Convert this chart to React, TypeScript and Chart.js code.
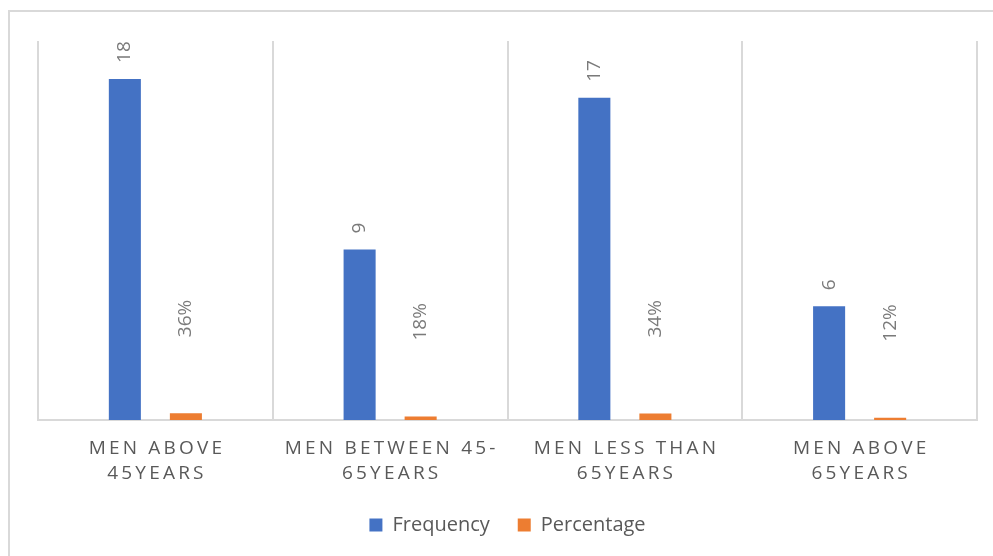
import React, { useEffect, useRef } from "react";
import { Chart, registerables } from "chart.js";

Chart.register(...registerables);

const categories: string[][] = [
  ["MEN ABOVE", "45YEARS"],
  ["MEN BETWEEN 45-", "65YEARS"],
  ["MEN LESS THAN", "65YEARS"],
  ["MEN ABOVE", "65YEARS"],
];
const frequency: number[] = [18, 9, 17, 6];
const percentage: number[] = [0.36, 0.18, 0.34, 0.12];
const percentageLabels: string[] = ["36%", "18%", "34%", "12%"];

const FONT = "'Open Sans', 'Noto Sans', sans-serif";
const GRID = "#d9d9d9";

// Rotated value labels above each bar
const valueLabels = {
  id: "valueLabels",
  afterDatasetsDraw(chart: Chart) {
    const ctx = chart.ctx;
    ctx.save();
    ctx.font = `19px ${FONT}`;
    ctx.fillStyle = "#7a7a7a";
    ctx.textAlign = "left";
    ctx.textBaseline = "middle";
    chart.data.datasets.forEach((ds, di) => {
      const meta = chart.getDatasetMeta(di);
      meta.data.forEach((el: any, i: number) => {
        const text = di === 0 ? String(ds.data[i]) : percentageLabels[i];
        const gap = di === 0 ? 16 : 76;
        ctx.save();
        ctx.translate(el.x, el.y - gap);
        ctx.rotate(-Math.PI / 2);
        ctx.fillText(text, 0, 0);
        ctx.restore();
      });
    });
    ctx.restore();
  },
};

// Letter-spaced two-line category labels under the axis
const categoryLabels = {
  id: "categoryLabels",
  afterDraw(chart: Chart) {
    const ctx = chart.ctx as any;
    const xs = chart.scales.x;
    const spacing = 3.2;
    ctx.save();
    ctx.font = `19px ${FONT}`;
    ctx.fillStyle = "#595959";
    ctx.textAlign = "center";
    ctx.textBaseline = "middle";
    ctx.letterSpacing = `${spacing}px`;
    categories.forEach((lines, i) => {
      const x = xs.getPixelForValue(i) + spacing / 2;
      lines.forEach((line, li) => {
        ctx.fillText(line, x, xs.top + 29 + li * 25);
      });
    });
    ctx.restore();
  },
};

export default function App() {
  const canvasRef = useRef<HTMLCanvasElement | null>(null);

  useEffect(() => {
    if (!canvasRef.current) return;
    const chart = new Chart(canvasRef.current, {
      type: "bar",
      data: {
        labels: categories.map((c) => c.join(" ")),
        datasets: [
          {
            label: "Frequency",
            data: frequency,
            backgroundColor: "#4472C4",
            categoryPercentage: 0.52,
            barPercentage: 0.525,
          },
          {
            label: "Percentage",
            data: percentage,
            backgroundColor: "#ED7D31",
            categoryPercentage: 0.52,
            barPercentage: 0.525,
          },
        ],
      },
      options: {
        responsive: false,
        animation: false,
        layout: { padding: { left: 28, top: 29, right: 16, bottom: 11 } },
        scales: {
          x: {
            grid: {
              offset: true,
              color: GRID,
              lineWidth: 2,
              drawTicks: false,
            },
            border: { display: true, color: GRID, width: 2 },
            ticks: { display: false },
            afterFit: (scale: any) => {
              scale.height = 67;
            },
          },
          y: {
            display: false,
            min: 0,
            max: 20,
          },
        },
        plugins: {
          legend: {
            position: "bottom",
            labels: {
              boxWidth: 13,
              boxHeight: 13,
              padding: 28,
              color: "#595959",
              font: { family: FONT, size: 20 },
            },
          },
          tooltip: { enabled: false },
        },
      },
      plugins: [valueLabels, categoryLabels],
    });
    return () => chart.destroy();
  }, []);

  return (
    <div
      style={{
        position: "absolute",
        left: 8,
        top: 10,
        width: 985,
        height: 546,
        boxSizing: "border-box",
        borderLeft: `2px solid ${GRID}`,
        borderTop: `2px solid ${GRID}`,
        background: "#ffffff",
      }}
    >
      <canvas ref={canvasRef} width={983} height={544} style={{ display: "block" }} />
    </div>
  );
}
